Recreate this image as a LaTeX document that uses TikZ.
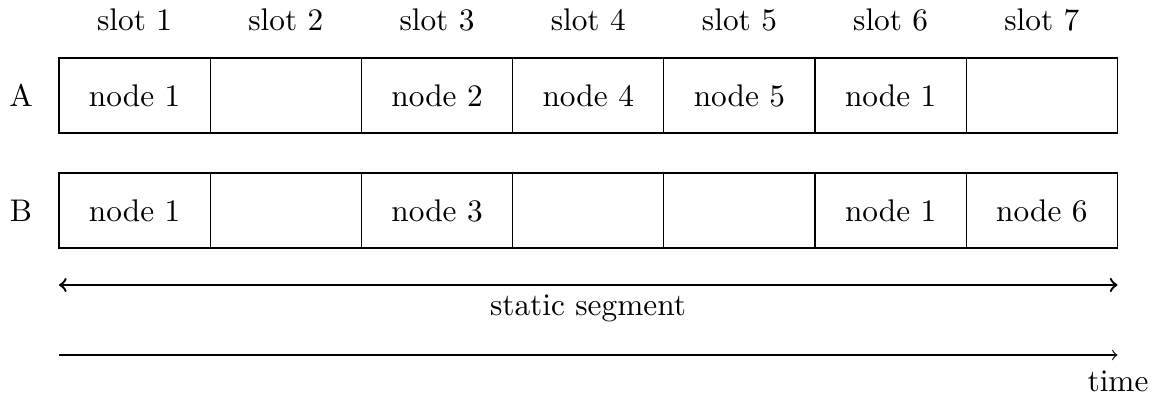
\documentclass[tikz,border=0pt]{standalone}
\usetikzlibrary{positioning}
\begin{document}
\begin{tikzpicture}[x=0.0119048cm,y=-0.0119048cm,
  every node/.style={font=\fontsize{10.6}{12.7}\selectfont},
  slotbox/.style={draw,rectangle,minimum width=1.8cm,minimum height=0.893cm,inner sep=0pt,outer sep=0pt,anchor=north west},
  lbl/.style={inner sep=0pt}]
\useasboundingbox (0,0) rectangle (1155,399);
\foreach \r/\y/\t in {A/58/{node 1,,node 2,node 4,node 5,node 1,},B/173/{node 1,,node 3,,,node 1,node 6}}{
  \foreach \c [count=\i from 0] in \t {
    \node[slotbox] (\r\i) at ({59+151.21*\i},\y) {\c};
  }
  \node[lbl] (lab\r) at (21,{\y+37.5}) {\r};
}
\foreach \i in {0,...,6}{
  \pgfmathtruncatemacro{\n}{\i+1}
  \node[lbl] (s\i) at ({59+151.21*\i+75.6},20) {slot \n};
}
\coordinate (sl) at (59,285);
\coordinate (sr) at (1117.5,285);
\draw[<->,thick] (sl) -- (sr);
\node[lbl] (seg) at (588,308) {static segment};
\coordinate (tl) at (59,355);
\coordinate (tr) at (1117.5,355);
\draw[->] (tl) -- (tr);
\node[lbl] (time) at (1118,381) {time};
\end{tikzpicture}
\end{document}
